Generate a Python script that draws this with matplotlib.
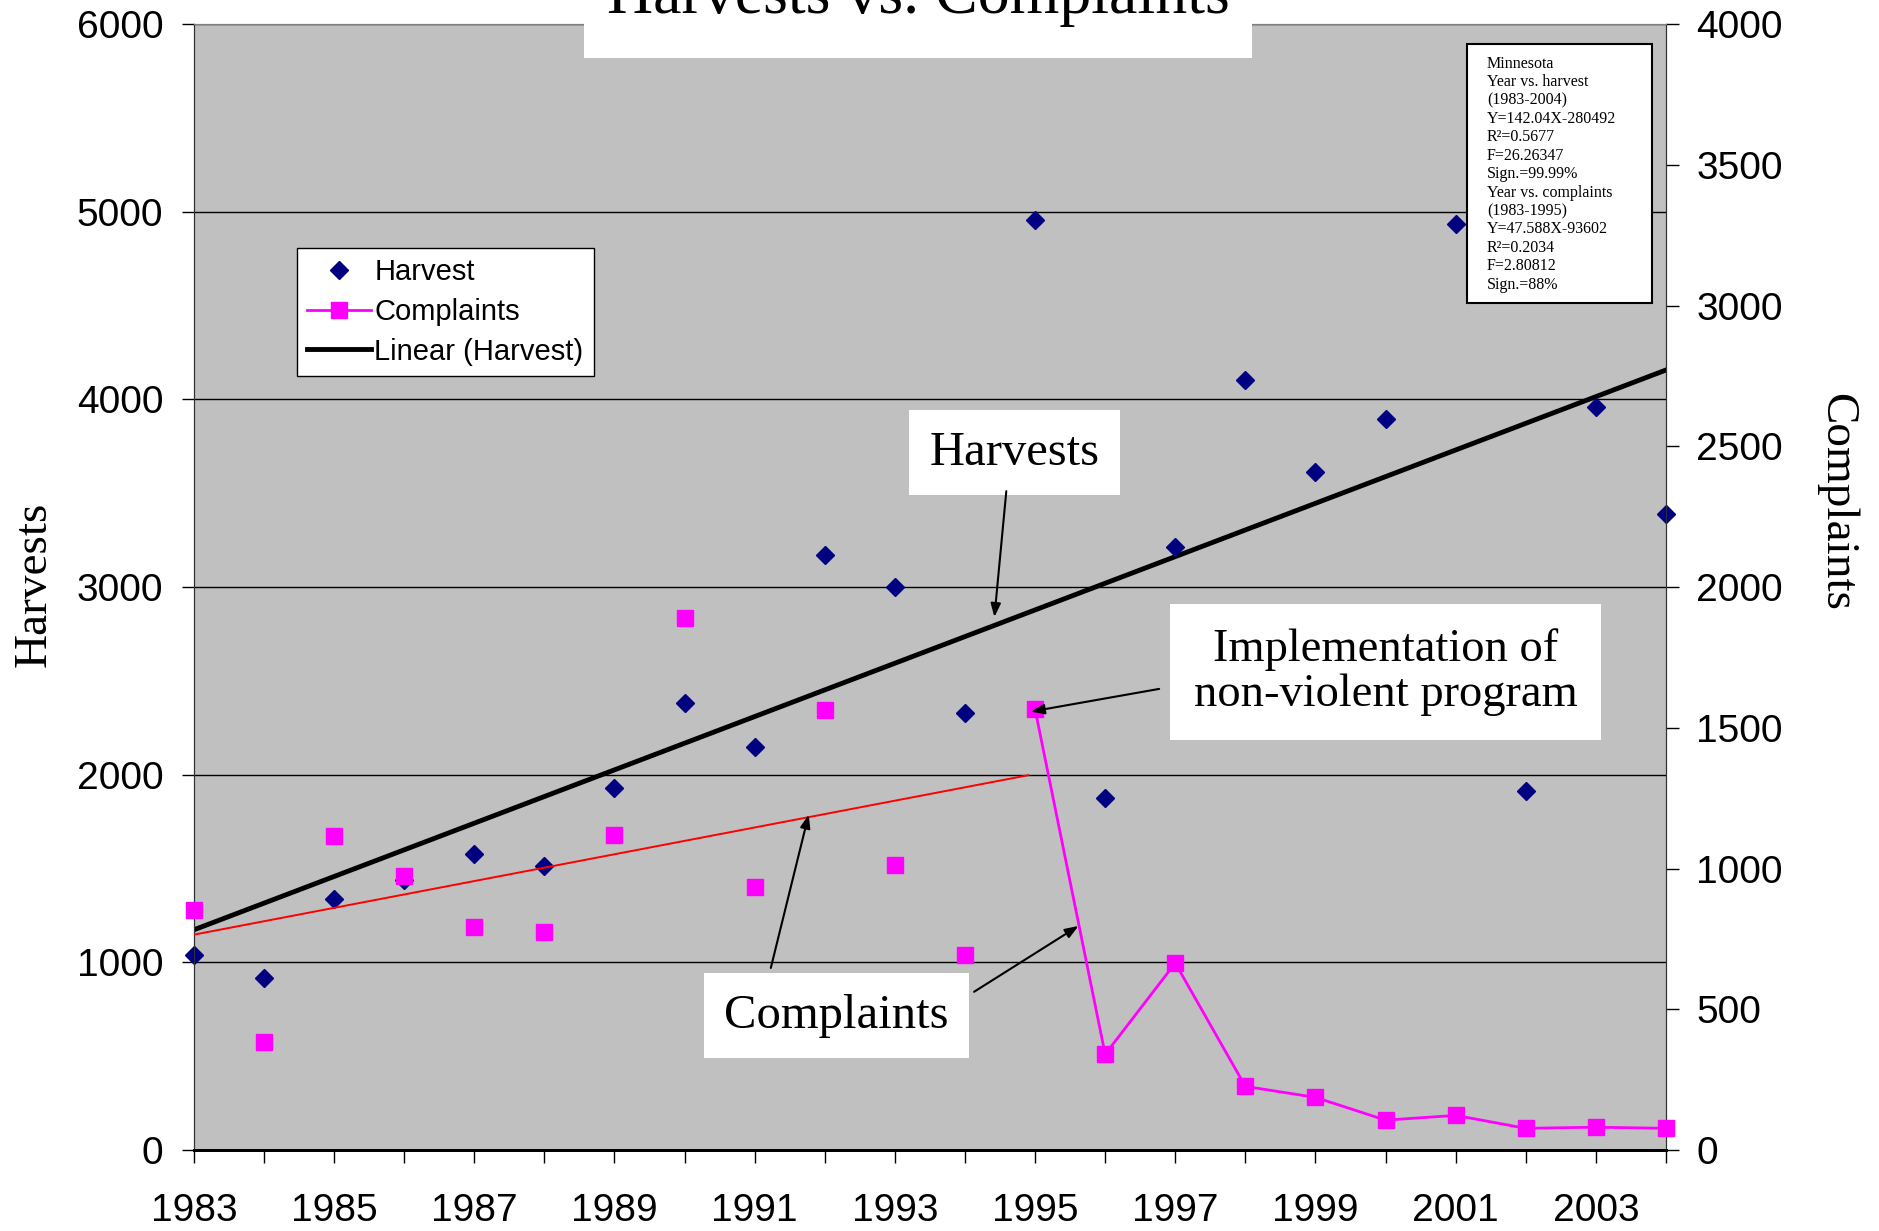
import matplotlib
matplotlib.use("Agg")
import matplotlib.pyplot as plt
import matplotlib.patches as mpatches
from matplotlib.lines import Line2D
import numpy as np

years = list(range(1983, 2005))
harvest = [1040, 919, 1340, 1440, 1577, 1513, 1928, 2381, 2145, 3172, 3000,
           2330, 4953, 1877, 3211, 4104, 3613, 3894, 4934, 1915, 3957, 3389]
complaints = [851, 383, 1115, 974, 791, 774, 1119, 1889, 936, 1562, 1013,
              694, 1566, 340, 664, 226, 187, 106, 123, 77, 81, 77]

# regression results printed in the chart
harvest_slope, harvest_intercept = 142.04, -280492
compl_slope, compl_intercept = 47.588, -93602
compl_fit_years = (1983, 1995)

stats_lines = ["Minnesota", "Year vs. harvest", "(1983-2004)", "Y=142.04X-280492",
               "R\u00b2=0.5677", "F=26.26347", "Sign.=99.99%", "Year vs. complaints",
               "(1983-1995)", "Y=47.588X-93602", "R\u00b2=0.2034", "F=2.80812", "Sign.=88%"]

serif = ["Liberation Serif", "DejaVu Serif"]
sans = ["Liberation Sans", "DejaVu Sans"]
plt.rcParams['font.family'] = sans

fig = plt.figure(figsize=(18.79, 12.31), dpi=100)
ax = fig.add_axes([0.1032, 0.0658, 0.7834, 0.9147])
ax.set_facecolor("#C0C0C0")
ax2 = ax.twinx()
ax2.patch.set_visible(False)

# harvest scatter
ax.plot(years, harvest, linestyle='none', marker='D', color='#000080',
        markersize=9, clip_on=False, zorder=4)
# harvest trend
yrs = np.array([years[0], years[-1]], dtype=float)
ax.plot(yrs, harvest_slope * yrs + harvest_intercept, color='black', lw=3.5, zorder=3)

# complaints: markers only before 1995, line from 1995
i95 = years.index(1995)
ax2.plot(years[:i95], complaints[:i95], linestyle='none', marker='s', color='#FF00FF',
         markersize=11, clip_on=False, zorder=5)
ax2.plot(years[i95:], complaints[i95:], linestyle='-', lw=2, marker='s', color='#FF00FF',
         markersize=11, clip_on=False, zorder=5)
cy = np.array([compl_fit_years[0], compl_fit_years[1] - 0.1])
ax2.plot(cy, compl_slope * cy + compl_intercept, color='red', lw=1.4, zorder=4)

ax.set_xlim(1983, 2004)
ax.set_ylim(0, 6000)
ax2.set_ylim(0, 4000)
ax.set_yticks(range(0, 6001, 1000))
ax2.set_yticks(range(0, 4001, 500))
ax.set_xticks(years)
ax.set_xticklabels([str(y) if (y - 1983) % 2 == 0 else '' for y in years])
ax.yaxis.grid(True, color='black', lw=1)
ax.set_axisbelow(True)

ax.tick_params(axis='x', direction='out', length=9, width=1, pad=22, labelsize=28)
ax.tick_params(axis='y', direction='out', length=9, width=1, pad=13, labelsize=28)
ax2.tick_params(axis='y', direction='out', length=9, width=1, pad=13, labelsize=28)
for a in (ax, ax2):
    a.spines['top'].set_color('#808080')
    a.spines['left'].set_color('#303030')
    a.spines['right'].set_color('#303030')
    a.spines['bottom'].set_linewidth(2)

fig.text(34 / 1879, 1 - 584 / 1231, "Harvests", rotation=90, ha='center', va='center',
         fontsize=34, family=serif)
fig.text(1836 / 1879, 1 - 502 / 1231, "Complaints", rotation=270, ha='center', va='center',
         fontsize=34, family=serif)

# title (partly off the top)
rect = mpatches.Rectangle((584 / 1879, 1 - 57.5 / 1231), (1252 - 584) / 1879, 60 / 1231,
                          transform=fig.transFigure, facecolor='white', edgecolor='none',
                          zorder=20)
fig.patches.append(rect)
fig.text(918 / 1879, 1 - 13 / 1231, "Harvests vs. Complaints", ha='center', va='baseline',
         fontsize=46, family=serif, zorder=21)

# annotation text boxes
box = dict(boxstyle='square,pad=0.42', facecolor='white', edgecolor='none')
ax2.text(1994.71, 3715, "Harvests", transform=ax.transData, ha='center', va='center',
         fontsize=35, family=serif, bbox=box, zorder=10)
ax2.text(2000.0, 2547, "Implementation of\nnon-violent program", transform=ax.transData,
         ha='center', va='center', fontsize=33.5, family=serif, linespacing=1.1,
         bbox=dict(boxstyle='square,pad=0.5', facecolor='white', edgecolor='none'), zorder=10)
ax2.text(1992.17, 715, "Complaints", transform=ax.transData, ha='center', va='center',
         fontsize=35, family=serif, bbox=box, zorder=10)

arrows = [((1994.42, 2840), (1994.59, 3511)),
          ((1994.94, 2336), (1996.77, 2457)),
          ((1991.77, 1787), (1991.23, 970)),
          ((1995.62, 1194), (1994.13, 843))]
for xy, xyt in arrows:
    ax2.annotate('', xy=xy, xytext=xyt, xycoords=ax.transData, textcoords=ax.transData,
                 arrowprops=dict(arrowstyle='-|>,head_length=0.8,head_width=0.3',
                                 color='black', lw=1.5, shrinkA=0, shrinkB=0), zorder=11)

# stats box
sx0, sx1, sy0, sy1 = 0.8648, 0.9905, 0.7522, 0.9822
ax2.add_patch(mpatches.Rectangle((sx0, sy0), sx1 - sx0, sy1 - sy0, transform=ax2.transAxes,
                                 facecolor='white', edgecolor='black', lw=1.5, zorder=9,
                                 clip_on=False))
ax2.text(0.8784, 0.9718, "\n".join(stats_lines), transform=ax2.transAxes, ha='left', va='top',
         fontsize=11.5, family=serif, linespacing=1.2, zorder=10)

# legend
handles = [Line2D([], [], linestyle='none', marker='D', color='#000080', markersize=9),
           Line2D([], [], linestyle='-', lw=2, marker='s', color='#FF00FF', markersize=11),
           Line2D([], [], color='black', lw=3.5)]
leg = ax2.legend(handles, ["Harvest", "Complaints", "Linear (Harvest)"], loc='upper left',
                 bbox_to_anchor=(0.07, 0.801), borderaxespad=0, fancybox=False,
                 framealpha=1, edgecolor='black', fontsize=21, handlelength=2.2,
                 handletextpad=0.1, borderpad=0.35, labelspacing=0.4)
leg.get_frame().set_linewidth(1)
leg.set_zorder(12)

fig.savefig("out.png", dpi=100, facecolor='white')
